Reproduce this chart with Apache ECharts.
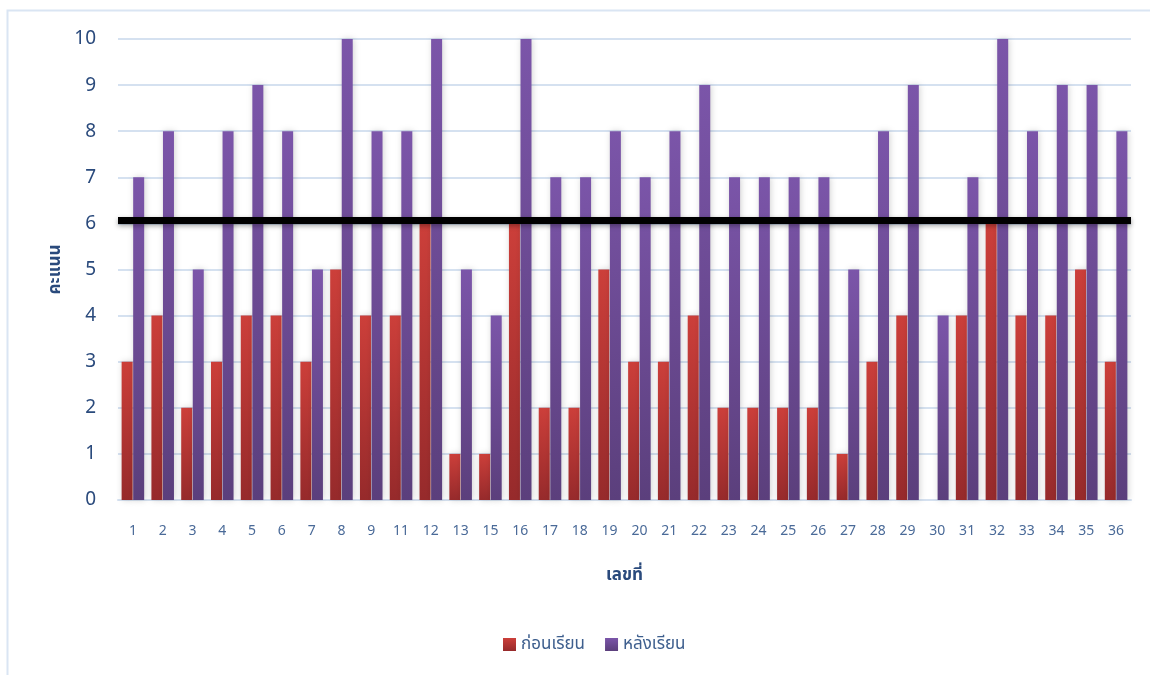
<!DOCTYPE html>
<html><head><meta charset="utf-8">
<script src="https://cdn.jsdelivr.net/npm/echarts@6/dist/echarts.min.js"></script>
<style>html,body{margin:0;padding:0;background:#fff}#c{width:1150px;height:675px}</style>
</head><body><div id="c"></div>
<script>
const categories = ['1','2','3','4','5','6','7','8','9','11','12','13','15','16','17','18','19','20','21','22','23','24','25','26','27','28','29','30','31','32','33','34','35','36'];
const before = [3,4,2,3,4,4,3,5,4,4,6,1,1,6,2,2,5,3,3,4,2,2,2,2,1,3,4,0,4,6,4,4,5,3];
const after  = [7,8,5,8,9,8,5,10,8,8,10,5,4,10,7,7,8,7,8,9,7,7,7,7,5,8,9,4,7,10,8,9,9,8];
const yTicks = [0,1,2,3,4,5,6,7,8,9,10];
const passLine = 6.07;
const seriesNames = ['ก่อนเรียน','หลังเรียน'];

const font = '"Noto Sans", "Noto Sans Thai", sans-serif';
const chart = echarts.init(document.getElementById('c'), null, {renderer:'canvas'});
const grad = (a,b)=>new echarts.graphic.LinearGradient(0,0,0,1,[{offset:0,color:a},{offset:1,color:b}]);
chart.setOption({
  animation:false,
  textStyle:{fontFamily:font},
  graphic:[{type:'rect',shape:{x:7.5,y:10.5,width:1300,height:800},style:{fill:'none',stroke:'#dae5f3',lineWidth:2},silent:true,z:-1}],
  grid:{left:118,right:19,top:39,bottom:175,containLabel:false},
  legend:{bottom:17,left:498,itemWidth:13,itemHeight:13,itemGap:20,icon:'rect',
    textStyle:{color:'#3e5f8e',fontSize:17,fontFamily:font},data:seriesNames},
  xAxis:{type:'category',data:categories,name:'เลขที่',nameLocation:'middle',nameGap:67,
    nameTextStyle:{color:'#2a4a7c',fontWeight:'bold',fontSize:17},
    axisLine:{show:true,lineStyle:{color:'#d5e1f0',width:2}},axisTick:{show:false},
    axisLabel:{color:'#4a6a98',fontSize:14,margin:24}},
  yAxis:{type:'value',min:0,max:10,interval:1,name:'คะแนน',nameLocation:'middle',nameGap:46,nameRotate:90,
    nameTextStyle:{color:'#2a4a7c',fontWeight:'bold',fontSize:17},
    axisLabel:{color:'#2a4a7c',fontSize:19,margin:22,formatter:v=>yTicks.includes(v)?String(v):''},
    splitLine:{lineStyle:{color:'#d5e1f0',width:2}},axisLine:{show:false},axisTick:{show:false}},
  series:[
    {name:seriesNames[0],type:'bar',data:before,barWidth:11,barGap:'5%',
      itemStyle:{color:grad('#cc3f3a','#962a2b'),shadowColor:'rgba(0,0,0,0.18)',shadowBlur:6,shadowOffsetX:1},
      markLine:{silent:true,symbol:'none',label:{show:false},z:10,
        lineStyle:{color:'#000',width:7,type:'solid',shadowColor:'rgba(0,0,0,0.35)',shadowBlur:5,shadowOffsetY:2},
        data:[{yAxis:passLine}]}},
    {name:seriesNames[1],type:'bar',data:after,barWidth:11,
      itemStyle:{color:grad('#7b55a9','#5b3f7c'),shadowColor:'rgba(0,0,0,0.18)',shadowBlur:6,shadowOffsetX:1}}
  ]
});
</script></body></html>
